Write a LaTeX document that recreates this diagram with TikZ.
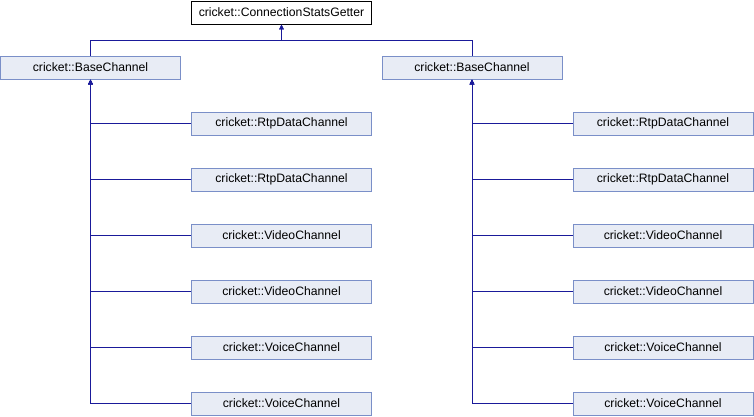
\documentclass[tikz,border=0pt]{standalone}
\usepackage{fontspec}
\setmainfont{Liberation Sans}
\usetikzlibrary{arrows.meta}
\definecolor{edgec}{HTML}{1A1A9A}
\definecolor{boxfill}{HTML}{E8ECF5}
\definecolor{boxline}{HTML}{7A8FC8}
\tikzset{
  cls/.style={draw=boxline, fill=boxfill, line width=0.9pt, minimum width=180pt, minimum height=23pt, inner sep=0pt, font=\fontsize{12.2}{14}\selectfont},
  topcls/.style={cls, draw=black, fill=white},
  edge/.style={draw=edgec, line width=1pt, -{Triangle[length=5pt,width=4.5pt]}}
}
\begin{document}
\begin{tikzpicture}[x=1pt,y=-1pt]
\useasboundingbox (0,0) rectangle (754,416);
\node[topcls] (top) at (281.5,12.5) {cricket::ConnectionStatsGetter};
\node[cls] (bl) at (90.5,67.5) {cricket::BaseChannel};
\node[cls] (br) at (472,67.5) {cricket::BaseChannel};
\coordinate (j) at (281.5,40);
\draw[edge] (bl.north) |- (j) -- (top.south);
\draw[edge] (br.north) |- (j) -- (top.south);
% left children
\node[cls] (l1) at (281.5,123.5) {cricket::RtpDataChannel};
\node[cls] (l2) at (281.5,179.5) {cricket::RtpDataChannel};
\node[cls] (l3) at (281.5,235.5) {cricket::VideoChannel};
\node[cls] (l4) at (281.5,291.5) {cricket::VideoChannel};
\node[cls] (l5) at (281.5,347.5) {cricket::VoiceChannel};
\node[cls] (l6) at (281.5,403.5) {cricket::VoiceChannel};
% right children
\node[cls] (r1) at (663,123.5) {cricket::RtpDataChannel};
\node[cls] (r2) at (663,179.5) {cricket::RtpDataChannel};
\node[cls] (r3) at (663,235.5) {cricket::VideoChannel};
\node[cls] (r4) at (663,291.5) {cricket::VideoChannel};
\node[cls] (r5) at (663,347.5) {cricket::VoiceChannel};
\node[cls] (r6) at (663,403.5) {cricket::VoiceChannel};
\foreach \c in {l1,l2,l3,l4,l5,l6}{\draw[edge] (\c.west) -| (bl.south);}
\foreach \c in {r1,r2,r3,r4,r5,r6}{\draw[edge] (\c.west) -| (br.south);}
\end{tikzpicture}
\end{document}
